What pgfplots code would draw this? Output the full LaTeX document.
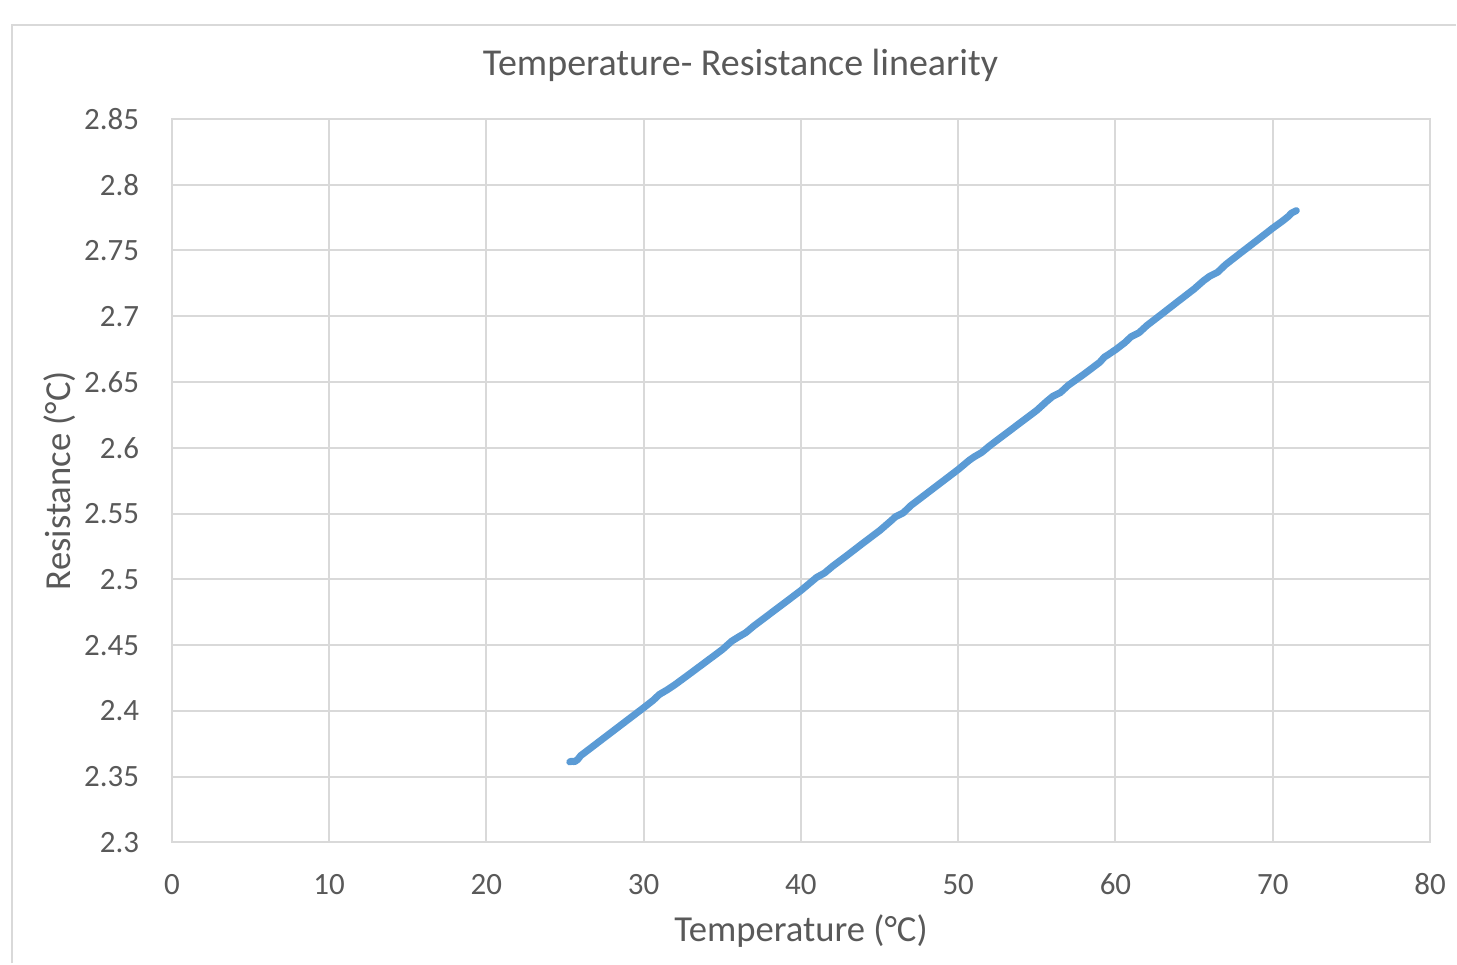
\documentclass[border=0pt]{standalone}
\usepackage{fontspec}
\setmainfont{Carlito}
\usepackage{pgfplots}
\pgfplotsset{compat=1.18}
\definecolor{txt}{HTML}{595959}
\definecolor{grd}{HTML}{D9D9D9}
\definecolor{ser}{HTML}{5B9BD5}

\begin{document}
\begin{tikzpicture}
\begin{axis}[
  at={(0,0)},anchor=south west,
  scale only axis,width=377.7pt,height=217.2pt,
  xmin=0,xmax=80,ymin=2.3,ymax=2.85,
  xtick={0,10,20,30,40,50,60,70,80},
  ytick={2.3,2.35,2.4,2.45,2.5,2.55,2.6,2.65,2.7,2.75,2.8,2.85},
  yticklabels={2.3,2.35,2.4,2.45,2.5,2.55,2.6,2.65,2.7,2.75,2.8,2.85},
  grid=major,grid style={draw=grd,line width=0.6pt},
  axis line style={draw=grd,line width=0.6pt},
  tick style={draw=none},major tick length=0pt,
  ticklabel style={font=\fontsize{9.3}{11}\selectfont,text=txt},
  /pgf/number format/assume math mode=true,
  xticklabel style={anchor=center,yshift=-12.6pt},
  yticklabel style={anchor=east,xshift=-6.3pt},
  clip=false]
\addplot[ser,line width=2.1pt,line join=round,line cap=round] coordinates {
(25.30,2.3612) (25.45,2.3618) (25.60,2.3613) (25.80,2.3630) (26.0,2.3660)
(27.0,2.3751) (28.0,2.3842) (29.0,2.3933) (30.0,2.4024) (30.6,2.4080)
(31.0,2.4125) (31.5,2.4160) (32.0,2.4200) (33.0,2.4288) (34.0,2.4377)
(35.0,2.4466) (35.6,2.4530) (36.0,2.4560) (36.5,2.4595) (37.0,2.4645)
(38.0,2.4735) (39.0,2.4825) (40.0,2.4915) (40.7,2.4985) (41.0,2.5015)
(41.5,2.5048) (42.0,2.5098) (43.0,2.5188) (44.0,2.5280) (45.0,2.5370)
(45.7,2.5442) (46.0,2.5475) (46.5,2.5505) (47.0,2.5562) (48.0,2.5653)
(49.0,2.5744) (50.0,2.5835) (50.7,2.5905) (51.0,2.5930) (51.5,2.5965)
(52.0,2.6015) (53.0,2.6105) (54.0,2.6195) (55.0,2.6285) (55.6,2.6350)
(56.0,2.6390) (56.5,2.6420) (57.0,2.6475) (58.0,2.6560) (59.0,2.6650)
(59.3,2.6690) (59.5,2.6705) (60.0,2.6745) (60.6,2.6800) (61.0,2.6845)
(61.5,2.6875) (62.0,2.6930) (63.0,2.7022) (64.0,2.7115) (65.0,2.7207)
(65.6,2.7270) (66.0,2.7305) (66.5,2.7335) (67.0,2.7392) (68.0,2.7485)
(69.0,2.7577) (70.0,2.7670) (70.6,2.7722) (71.0,2.7760) (71.2,2.7785)
(71.5,2.7803)
};
\end{axis}
\node[text=txt,font=\fontsize{11.4}{13}\selectfont] at (170.7pt,233.4pt) {Temperature- Resistance linearity};
\node[text=txt,font=\fontsize{11}{13}\selectfont] at (188.85pt,-26.7pt) {Temperature (°C)};
\node[text=txt,font=\fontsize{11}{13}\selectfont,rotate=90] at (-33.6pt,108.6pt) {Resistance (°C)};
\draw[grd,line width=0.6pt] (-48pt,-36.3pt) -- (-48pt,245.4pt) -- (385.5pt,245.4pt);
\path[use as bounding box] (-51.6pt,-36.3pt) rectangle (385.5pt,252.9pt);
\end{tikzpicture}
\end{document}
